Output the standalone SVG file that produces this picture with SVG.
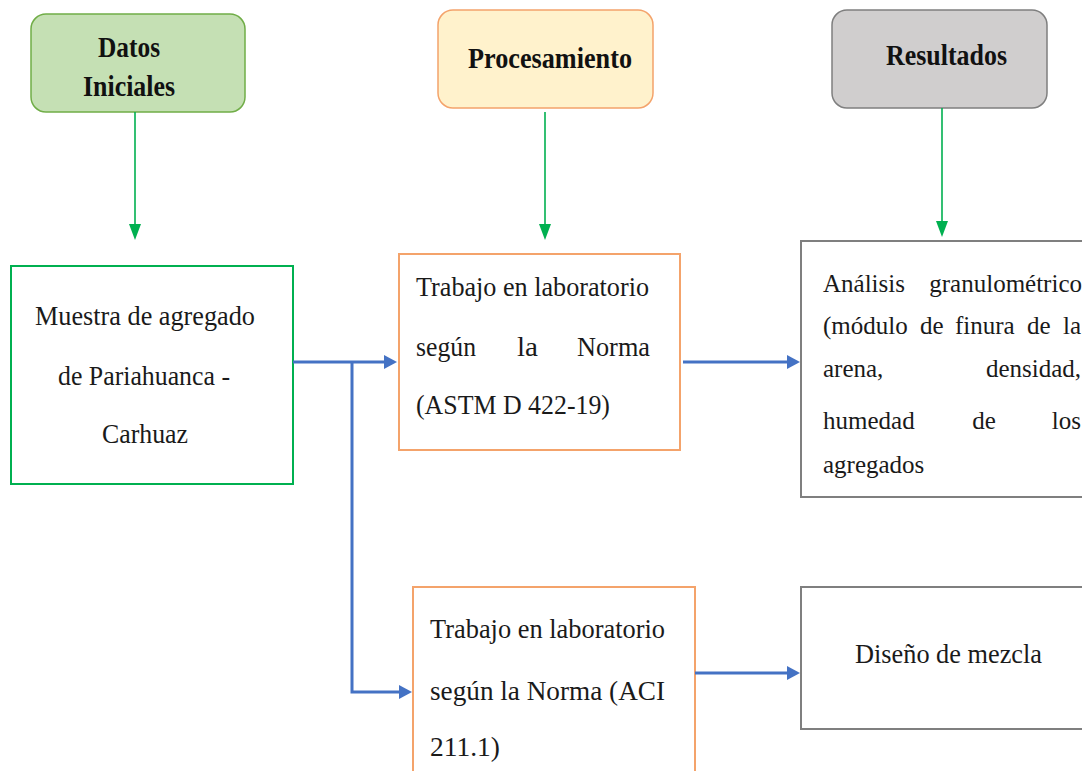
<svg xmlns="http://www.w3.org/2000/svg" width="1082" height="771" viewBox="0 0 1082 771">
  <style>
    text { font-family: 'Liberation Serif', 'DejaVu Serif', serif; }
    .hdr { font-weight: bold; font-size: 29px; fill: #111; }
    .txt { font-size: 28px; fill: #1a1a1a; }
    .txt2 { font-size: 25px; fill: #1a1a1a; }
    .green { stroke: #00b050; stroke-width: 1.6; fill: none; }
    .blue { stroke: #4472c4; stroke-width: 3; fill: none; }
    .ghead { fill: #00b050; }
    .bhead { fill: #4472c4; }
  </style>
  <rect width="1082" height="771" fill="#ffffff"/>

  <!-- column headers -->
  <g id="datos-iniciales">
    <rect x="31" y="14" width="214" height="98" rx="15" fill="#c5e0b4" stroke="#70ad47" stroke-width="1.5"/>
    <text class="hdr" x="98" y="57" textLength="62" lengthAdjust="spacingAndGlyphs">Datos</text>
    <text class="hdr" x="83" y="96" textLength="92" lengthAdjust="spacingAndGlyphs">Iniciales</text>
  </g>
  <g id="procesamiento">
    <rect x="438" y="10" width="215" height="98" rx="15" fill="#fff2cc" stroke="#f4a36b" stroke-width="1.5"/>
    <text class="hdr" x="468" y="68" textLength="164" lengthAdjust="spacingAndGlyphs">Procesamiento</text>
  </g>
  <g id="resultados">
    <rect x="832" y="10" width="215" height="98" rx="15" fill="#d0cece" stroke="#7f7f7f" stroke-width="1.5"/>
    <text class="hdr" x="886" y="65" textLength="121" lengthAdjust="spacingAndGlyphs">Resultados</text>
  </g>

  <!-- content boxes -->
  <g id="muestra">
    <rect x="11" y="266" width="282" height="218" fill="#ffffff" stroke="#00b050" stroke-width="2"/>
    <text class="txt" x="35" y="325" textLength="220" lengthAdjust="spacingAndGlyphs">Muestra de agregado</text>
    <text class="txt" x="58" y="385" textLength="172" lengthAdjust="spacingAndGlyphs">de Pariahuanca -</text>
    <text class="txt" x="102" y="443" textLength="86" lengthAdjust="spacingAndGlyphs">Carhuaz</text>
  </g>
  <g id="trabajo-astm">
    <rect x="399" y="254" width="281" height="196" fill="#ffffff" stroke="#f4a36b" stroke-width="2"/>
    <text class="txt" x="416" y="296" textLength="233" lengthAdjust="spacingAndGlyphs">Trabajo en laboratorio</text>
    <text class="txt" x="416" y="356" textLength="60" lengthAdjust="spacingAndGlyphs">según</text>
    <text class="txt" x="517" y="356" textLength="21" lengthAdjust="spacingAndGlyphs">la</text>
    <text class="txt" x="577" y="356" textLength="73" lengthAdjust="spacingAndGlyphs">Norma</text>
    <text class="txt" x="416" y="414" textLength="194" lengthAdjust="spacingAndGlyphs">(ASTM D 422-19)</text>
  </g>
  <g id="analisis">
    <rect x="801" y="241" width="290" height="256" fill="#ffffff" stroke="#7f7f7f" stroke-width="2"/>
    <!-- justified paragraph: words placed one by one -->
    <text class="txt2" x="823" y="292">Análisis</text>
    <text class="txt2" x="1082" y="292" text-anchor="end">granulométrico</text>
    <text class="txt2" x="823" y="334">(módulo</text>
    <text class="txt2" x="920" y="334">de</text>
    <text class="txt2" x="955" y="334">finura</text>
    <text class="txt2" x="1027" y="334">de</text>
    <text class="txt2" x="1081" y="334" text-anchor="end">la</text>
    <text class="txt2" x="823" y="377">arena,</text>
    <text class="txt2" x="1081" y="377" text-anchor="end">densidad,</text>
    <text class="txt2" x="823" y="429">humedad</text>
    <text class="txt2" x="984" y="429" text-anchor="middle">de</text>
    <text class="txt2" x="1081" y="429" text-anchor="end">los</text>
    <text class="txt2" x="823" y="473">agregados</text>
  </g>
  <g id="trabajo-aci">
    <rect x="413" y="587" width="282" height="200" fill="#ffffff" stroke="#f4a36b" stroke-width="2"/>
    <text class="txt" x="430" y="638" textLength="235" lengthAdjust="spacingAndGlyphs">Trabajo en laboratorio</text>
    <text class="txt" x="430" y="700" textLength="235" lengthAdjust="spacingAndGlyphs">según la Norma (ACI</text>
    <text class="txt" x="430" y="756" textLength="70" lengthAdjust="spacingAndGlyphs">211.1)</text>
  </g>
  <g id="diseno">
    <rect x="801" y="587" width="290" height="142" fill="#ffffff" stroke="#7f7f7f" stroke-width="2"/>
    <text class="txt" x="855" y="663" textLength="187" lengthAdjust="spacingAndGlyphs">Diseño de mezcla</text>
  </g>

  <!-- connectors -->
  <g id="connectors">
    <!-- header to box (green) -->
    <path class="green" d="M135,112 V226"/>
    <polygon class="ghead" points="129,224 141,224 135,240"/>
    <path class="green" d="M545,112 V226"/>
    <polygon class="ghead" points="539,224 551,224 545,240"/>
    <path class="green" d="M942,108 V223"/>
    <polygon class="ghead" points="936,221 948,221 942,237"/>

    <!-- flow (blue) -->
    <path class="blue" d="M293,362 H386"/>
    <polygon class="bhead" points="384,355 397,362 384,369"/>
    <path class="blue" d="M352,362 V692 H401"/>
    <polygon class="bhead" points="399,685 412,692 399,699"/>
    <path class="blue" d="M683,362 H789"/>
    <polygon class="bhead" points="787,355 800,362 787,369"/>
    <path class="blue" d="M695,673 H789"/>
    <polygon class="bhead" points="787,666 800,673 787,680"/>
  </g>
</svg>
